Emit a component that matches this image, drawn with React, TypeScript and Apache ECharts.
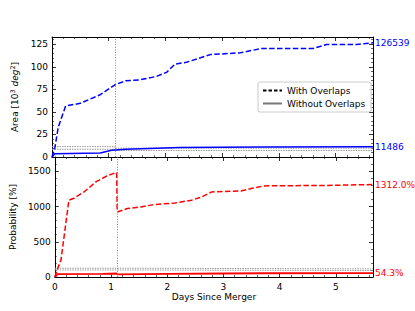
import React, { useEffect, useRef } from "react";
import * as echarts from "echarts";

// ---- data ----
const mergerMarkDay = 1.11;

const areaOverlapDays = [0, 0.05, 0.11, 0.24, 0.5, 0.85, 1.11, 1.3, 1.55, 1.84, 2.02, 2.17, 2.37, 2.62, 2.79, 3.31, 3.69, 4.6, 4.84, 5.37, 5.66];
const areaOverlap = [0, 10, 33, 56.5, 59.5, 69, 80, 84.5, 85.5, 89.3, 93.8, 103, 105, 110, 113.5, 115.4, 120.2, 120.2, 124.7, 124.7, 126.539];

const areaNoOverlapDays = [0, 0.05, 0.85, 1.05, 1.3, 2.25, 3.7, 5.66];
const areaNoOverlap = [0, 3.6, 4.5, 7.5, 8.6, 10.4, 11.2, 11.486];

const probOverlapDays = [0, 0.05, 0.11, 0.25, 0.35, 0.52, 0.73, 0.93, 1.1, 1.11, 1.29, 1.53, 1.76, 2.14, 2.43, 2.61, 2.79, 3.31, 3.49, 3.72, 4.84, 5.66];
const probOverlap = [0, 120, 240, 1090, 1122, 1207, 1349, 1435, 1485, 923, 971, 994, 1028, 1051, 1089, 1136, 1207, 1221, 1255, 1293, 1300, 1312.0];

const probNoOverlapDays = [0, 0.05, 0.85, 1.1, 1.11, 2, 3, 3.7, 5.66];
const probNoOverlap = [0, 40, 45, 50, 38, 45, 50, 53, 54.3];

const refDays = [0, 1.11, 1.11, 5.66];
const refAreaHi = [11.5, 11.5, 9.8, 9.8];
const refAreaLo = [8.6, 8.6, 7.2, 7.2];
const refProbHi = [125, 125, 115, 115];
const refProbLo = [100, 100, 92, 92];

const xMax = 5.66;
const areaMax = 133;
const probMax = 1703;

const pairs = (xs: number[], ys: number[]) => xs.map((x, i) => [x, ys[i]]);

const FONT = "DejaVu Sans";
const BLUE = "#0000ff";
const RED = "#ff0000";

export default function App() {
  const ref = useRef<HTMLDivElement>(null);
  useEffect(() => {
    if (!ref.current) return;
    const chart = echarts.init(ref.current, null, { renderer: "svg" });

    const tickIn = (minor = true) => ({
      axisLine: { show: true, onZero: false, lineStyle: { color: "#000", width: 1 } },
      axisTick: { show: true, inside: true, length: 4, lineStyle: { color: "#000", width: 0.8 } },
      minorTick: { show: minor, splitNumber: 5, length: 2, lineStyle: { color: "#000", width: 0.6 } },
      splitLine: { show: false },
      minorSplitLine: { show: false },
    });
    const labelStyle = { fontFamily: FONT, fontSize: 9, color: "#000" };

    const xAxisBase = (grid: number, pos: "bottom" | "top", labels: boolean, name?: string) => ({
      type: "value",
      gridIndex: grid,
      position: pos,
      min: 0,
      max: xMax,
      interval: 1,
      ...tickIn(),
      axisLabel: { show: labels, ...labelStyle, margin: 5, showMaxLabel: false, formatter: (v: number) => String(v) },
      name: name,
      nameLocation: "middle",
      nameGap: 15,
      nameTextStyle: { fontFamily: FONT, fontSize: 9, color: "#000" },
    });

    const yAxisBase = (grid: number, pos: "left" | "right", max: number, interval: number, labels: boolean, name?: string, gap = 30, rich?: any) => ({
      type: "value",
      gridIndex: grid,
      position: pos,
      min: 0,
      max,
      interval,
      ...tickIn(),
      axisLabel: { show: labels, ...labelStyle, margin: 4, showMaxLabel: false, formatter: (v: number) => String(v) },
      name: name,
      nameLocation: "middle",
      nameGap: gap,
      nameTextStyle: { fontFamily: FONT, fontSize: 9, color: "#000", rich },
    });

    const dashed = [5.5, 2.4];

    const vline = {
      silent: true,
      symbol: "none",
      label: { show: false },
      lineStyle: { color: "#888", type: [1, 1.6], width: 1 },
      data: [{ xAxis: mergerMarkDay }],
    };

    const refLine = (x: number, y: number, data: number[][]) => ({
      type: "line",
      xAxisIndex: x,
      yAxisIndex: y,
      data,
      symbol: "none",
      z: 1,
      silent: true,
      lineStyle: { color: "#999", width: 1, type: [1.5, 1] },
    });

    const endLbl = (color: string, fmt: (v: number) => string) => ({
      show: true,
      distance: 2,
      formatter: (p: any) => fmt(p.value[1]),
      color,
      fontFamily: FONT,
      fontSize: 9,
    });

    const option: any = {
      animation: false,
      grid: [
        { left: 52, top: 37, width: 321, height: 120 },
        { left: 52, top: 157, width: 321, height: 120 },
      ],
      legend: {
        data: ["With Overlaps", "Without Overlaps"],
        left: 258,
        top: 82,
        orient: "vertical",
        itemWidth: 19,
        itemHeight: 8,
        itemGap: 4,
        padding: [4, 6, 4, 4],
        borderColor: "#ccc",
        borderWidth: 1,
        borderRadius: 2,
        backgroundColor: "rgba(255,255,255,0.85)",
        itemStyle: { opacity: 0 },
        textStyle: { fontFamily: FONT, fontSize: 9, color: "#000" },
      },
      xAxis: [
        xAxisBase(0, "bottom", false),
        xAxisBase(0, "top", false),
        xAxisBase(1, "bottom", true, "Days Since Merger"),
        xAxisBase(1, "top", false),
      ],
      yAxis: [
        yAxisBase(0, "left", areaMax, 25, true, "Area [10{sup|3} {it|deg}{sup|2}]", 30, {
          sup: { fontFamily: FONT, fontSize: 6.5, verticalAlign: "bottom", padding: [0, 0, 5, 0], color: "#000" },
          it: { fontFamily: FONT, fontSize: 9, fontStyle: "italic", color: "#000" },
        }),
        yAxisBase(0, "right", areaMax, 25, false),
        yAxisBase(1, "left", probMax, 500, true, "Probability [%]", 27),
        yAxisBase(1, "right", probMax, 500, false),
      ],
      series: [
        refLine(0, 0, pairs(refDays, refAreaHi)),
        refLine(0, 0, pairs(refDays, refAreaLo)),
        refLine(2, 2, pairs(refDays, refProbHi)),
        refLine(2, 2, pairs(refDays, refProbLo)),
        {
          type: "line",
          xAxisIndex: 0,
          yAxisIndex: 0,
          data: pairs(areaOverlapDays, areaOverlap),
          symbol: "none",
          z: 3,
          lineStyle: { color: BLUE, width: 1.5, type: dashed },
          markLine: vline,
          endLabel: endLbl(BLUE, (v) => String(Math.round(v * 1000))),
        },
        {
          type: "line",
          xAxisIndex: 0,
          yAxisIndex: 0,
          data: pairs(areaNoOverlapDays, areaNoOverlap),
          symbol: "none",
          z: 3,
          lineStyle: { color: BLUE, width: 1.5 },
          endLabel: endLbl(BLUE, (v) => String(Math.round(v * 1000))),
        },
        {
          type: "line",
          xAxisIndex: 2,
          yAxisIndex: 2,
          data: pairs(probOverlapDays, probOverlap),
          symbol: "none",
          z: 3,
          lineStyle: { color: RED, width: 1.5, type: dashed },
          markLine: vline,
          endLabel: endLbl(RED, (v) => v.toFixed(1) + "%"),
        },
        {
          type: "line",
          xAxisIndex: 2,
          yAxisIndex: 2,
          data: pairs(probNoOverlapDays, probNoOverlap),
          symbol: "none",
          z: 3,
          lineStyle: { color: RED, width: 1.8 },
          endLabel: endLbl(RED, (v) => v.toFixed(1) + "%"),
        },
        {
          name: "With Overlaps",
          type: "line",
          xAxisIndex: 0,
          yAxisIndex: 0,
          data: [],
          symbol: "none",
          symbolSize: 0,
          itemStyle: { color: "#000" },
          lineStyle: { color: "#000", width: 1.1, type: [3.5, 2] },
        },
        {
          name: "Without Overlaps",
          type: "line",
          xAxisIndex: 0,
          yAxisIndex: 0,
          data: [],
          symbol: "none",
          symbolSize: 0,
          itemStyle: { color: "#777" },
          lineStyle: { color: "#777", width: 2 },
        },
      ],
    };
    chart.setOption(option);
    return () => chart.dispose();
  }, []);

  return (
    <div
      ref={ref}
      style={{ position: "fixed", left: 0, top: 0, width: 415, height: 311, background: "#fff" }}
    />
  );
}
